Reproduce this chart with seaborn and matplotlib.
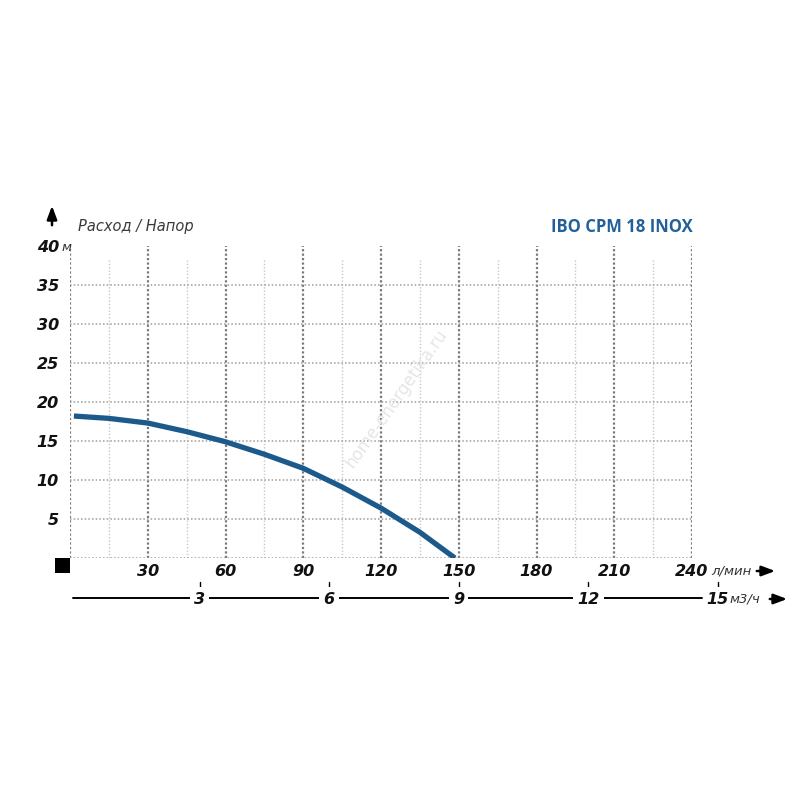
import matplotlib
matplotlib.use("Agg")
import matplotlib.pyplot as plt
import matplotlib.transforms as mtransforms
from matplotlib.patches import Rectangle
import seaborn as sns

# pump curve (flow l/min, head m)
flow = [1.5, 15, 30, 45, 60, 75, 90, 105, 120, 135, 148.5]
head = [18.2, 17.9, 17.3, 16.2, 14.9, 13.3, 11.5, 9.1, 6.4, 3.3, 0.0]

x_ticks = [30, 60, 90, 120, 150, 180, 210, 240]
y_ticks = [5, 10, 15, 20, 25, 30, 35, 40]
m3h_ticks = [3, 6, 9, 12, 15]

title = "IBO CPM 18 INOX"
subtitle = "Расход / Напор"
watermark = "home-energetika.ru"

W = H = 800


def fx(x):
    return x / W


def fy(y):
    return 1 - y / H


sns.set_style("white")
plt.rcParams["font.family"] = ["DejaVu Sans"]

fig = plt.figure(figsize=(8, 8), dpi=100)
ax = fig.add_axes([fx(70), fy(558), (692 - 70) / W, (558 - 246) / H])
ax.set_xlim(0, 240)
ax.set_ylim(0, 40)

# dotted grid
ax.vlines(range(15, 240, 30), 0, 38.5, colors="#c8c8c8", linestyles=(0, (1, 1.4)), lw=1.0, zorder=1)
ax.vlines(range(0, 241, 30), 0, 40, colors="#7a7a7a", linestyles=(0, (1, 1)), lw=1.6, zorder=1)
ax.hlines(range(0, 36, 5), 0, 240, colors="#9c9c9c", linestyles=(0, (1, 1.4)), lw=1.1, zorder=1)

ax.text(126, 20.5, watermark, rotation=55, color="#e6e6e6", fontsize=12,
        ha="center", va="center", zorder=2)

sns.lineplot(x=flow, y=head, ax=ax, color="#1d5a8c", lw=3.8, zorder=5,
             solid_capstyle="butt")

tick_font = dict(fontsize=11.5, fontweight="bold", fontstyle="italic", color="#111111")
ax.set_xticks(x_ticks)
ax.set_xticklabels([str(v) for v in x_ticks], **tick_font)
ax.set_yticks(y_ticks)
ax.set_yticklabels([str(v) for v in y_ticks], **tick_font)
ax.tick_params(length=0)
ax.tick_params(axis="x", pad=4)
ax.tick_params(axis="y", pad=8)
sns.despine(ax=ax, left=True, bottom=True, top=True, right=True)

unit_font = dict(fontsize=9.5, fontstyle="italic", color="#333333")
fig.text(fx(61), fy(247), "м", ha="left", va="center", **unit_font)

# black square at origin
fig.patches.append(Rectangle((fx(55), fy(573)), 15 / W, 15 / H, transform=fig.transFigure,
                             facecolor="black", edgecolor="none"))

# second flow scale in m3/h
tr = mtransforms.blended_transform_factory(ax.transData, fig.transFigure)
ax.plot([1.2, 244], [fy(598), fy(598)], color="black", lw=1.4, transform=tr, clip_on=False)
for v in m3h_ticks:
    lpm = v * 1000 / 60
    ax.plot([lpm, lpm], [fy(582), fy(588)], color="black", lw=1.0, transform=tr, clip_on=False)
    ax.text(lpm, fy(599), str(v), transform=tr, ha="center", va="center",
            bbox=dict(facecolor="white", edgecolor="none", pad=3), **tick_font)
fig.text(fx(730), fy(599), "м3/ч", ha="left", va="center", **unit_font)
fig.text(fx(711), fy(571), "л/мин", ha="left", va="center", **unit_font)

arrow = dict(arrowstyle="-|>,head_length=0.8,head_width=0.3", color="black", lw=1.8)
fig.add_artist(plt.Annotation("", xy=(fx(778), fy(571)), xytext=(fx(754), fy(571)),
                              xycoords="figure fraction", arrowprops=arrow))
fig.add_artist(plt.Annotation("", xy=(fx(790), fy(599)), xytext=(fx(767), fy(599)),
                              xycoords="figure fraction", arrowprops=arrow))
fig.add_artist(plt.Annotation("", xy=(fx(52), fy(203)), xytext=(fx(52), fy(228)),
                              xycoords="figure fraction", arrowprops=arrow))

fig.text(fx(78), fy(226), subtitle, ha="left", va="center", fontsize=10.5,
         fontstyle="italic", color="#3a3a3a")
fig.text(fx(693), fy(227), title, ha="right", va="center", fontsize=12,
         fontweight="bold", color="#23609a", family=["Open Sans", "DejaVu Sans"])

fig.savefig("out.png", dpi=100, facecolor="white")
